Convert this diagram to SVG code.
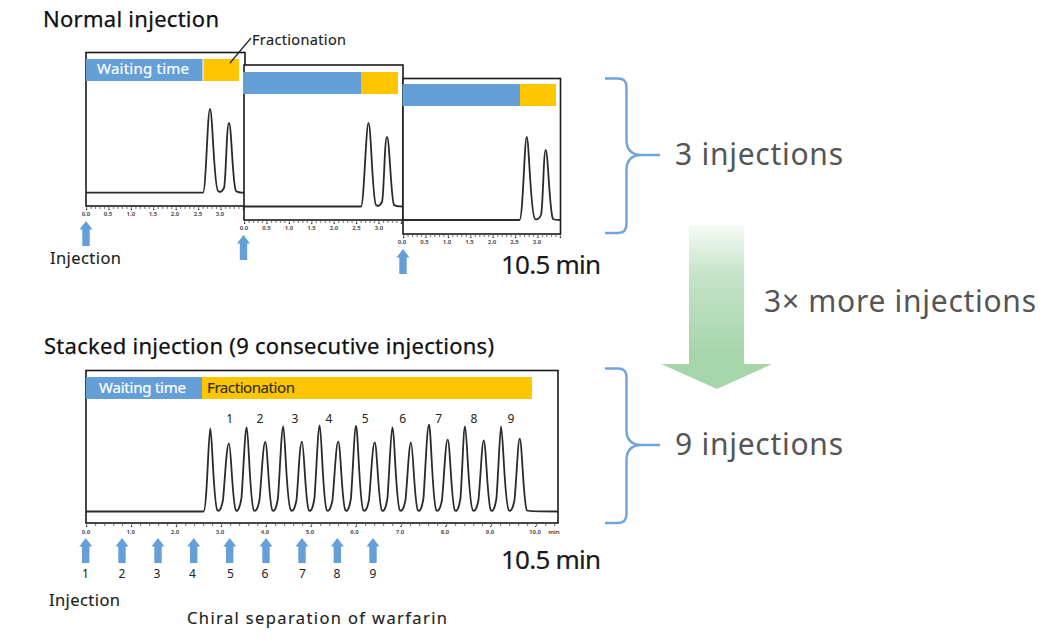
<svg xmlns="http://www.w3.org/2000/svg" width="1043" height="644" viewBox="0 0 1043 644">
<style>
text{font-family:"Noto Sans","Open Sans","DejaVu Sans",sans-serif}
.h{font-size:22px;fill:#111;stroke:#111;stroke-width:.25px}
.big{font-size:30px;fill:#555}
.min{font-size:26px;fill:#1a1a1a;stroke:#1a1a1a;stroke-width:.2px}
.lab{font-size:16.5px;fill:#222;stroke:#222;stroke-width:.15px}
.bar{font-size:15px;stroke-width:.2px}
.t{font-size:6px;fill:#555;text-anchor:middle;font-weight:700}
.n{font-size:12px;fill:#222;text-anchor:middle}
.frame{fill:#fff;stroke:#1a1a1a;stroke-width:1.6}
.blue{fill:#649fd8}
.gold{fill:#ffc600}
.trace{fill:none;stroke:#2a2a2a;stroke-width:1.8}
.minor{stroke:#111;stroke-width:1.2;fill:none;stroke-dasharray:1.2 3.28}
.minor2{stroke:#111;stroke-width:1.2;fill:none;stroke-dasharray:1.2 7.8}
.major{stroke:#111;stroke-width:1.2;fill:none;stroke-dasharray:1.2 21.2}
.major2{stroke:#111;stroke-width:1.2;fill:none;stroke-dasharray:1.2 43.7}
.brace{fill:none;stroke:#6fa5dc;stroke-width:2.4}
</style>
<defs>
<linearGradient id="g" x1="0" y1="225" x2="0" y2="389" gradientUnits="userSpaceOnUse"><stop offset="0" stop-color="#a6d5aa" stop-opacity="0.1"/><stop offset="0.3" stop-color="#a6d5aa" stop-opacity="0.65"/><stop offset="0.8" stop-color="#a6d5aa"/></linearGradient>
<path id="ar" d="M0 0L6.500 8.500H3.700V25H-3.700V8.500H-6.500Z" fill="#649fd8"/>
</defs>

<g id="title-normal"><text class="h" x="43" y="27" textLength="176">Normal injection</text></g>

<g id="panel-1">
<rect class="frame" x="86" y="52.500" width="159" height="153.500"/>
<rect class="blue" x="86" y="59" width="116.500" height="22"/>
<rect class="gold" x="203.500" y="59" width="35.500" height="22"/>
<text class="bar" x="97" y="74" fill="#fff" stroke="#fff" textLength="92">Waiting time</text>
<path class="trace" d="M86 192.700H203C206 192.700 207.500 109 210 109C212.500 109 214 188 218 191C220 192.500 222 192 224 188C226 182 226.500 123 229 123C231.500 123 232.500 186 236 191C238 192.700 241 192.700 244 192.700"/>
<path class="minor" d="M86 208H245"/><path class="major" d="M86 209.500H245"/>
<text class="t" x="86" y="216">0.0</text><text class="t" x="108" y="216">0.5</text><text class="t" x="130.800" y="216">1.0</text><text class="t" x="153" y="216">1.5</text><text class="t" x="175" y="216">2.0</text><text class="t" x="198" y="216">2.5</text><text class="t" x="220" y="216">3.0</text>
<use href="#ar" x="86" y="221"/>
<text class="lab" x="50" y="264" textLength="71">Injection</text>
</g>

<g id="panel-2">
<rect class="frame" x="244" y="65" width="159" height="155"/>
<rect class="blue" x="243" y="72" width="118" height="22"/>
<rect class="gold" x="361" y="72" width="37" height="22"/>
<path class="trace" d="M244 206.500H361C364 206.500 366 123 368.500 123C371 123 372.500 202 376 205C378 206.500 380 206 382 202C384 196 384.500 137 387 137C389.500 137 391 200 394 205C396 206.500 399 206.500 403 206.500"/>
<path class="minor" d="M244 222H403"/><path class="major" d="M244 223.500H403"/>
<text class="t" x="244" y="230">0.0</text><text class="t" x="266.500" y="230">0.5</text><text class="t" x="289" y="230">1.0</text><text class="t" x="311.500" y="230">1.5</text><text class="t" x="334" y="230">2.0</text><text class="t" x="356.500" y="230">2.5</text><text class="t" x="379" y="230">3.0</text>
<use href="#ar" x="243.500" y="235"/>
</g>

<g id="panel-3">
<rect class="frame" x="403" y="78.500" width="157.500" height="155.500"/>
<rect class="blue" x="402.500" y="84" width="117.500" height="22"/>
<rect class="gold" x="520" y="84" width="36" height="22"/>
<path class="trace" d="M403 220H519.500C523 220 524.500 137 526.700 137C529 137 530.500 216 535 219C537 220 539 219.500 541 215C543 209 543.500 150 545.700 150C548 150 549.500 213 553 219C555 220 558 220 560.500 220"/>
<path class="minor" d="M403 236H561"/><path class="major" d="M403 237.500H561"/>
<text class="t" x="402" y="244">0.0</text><text class="t" x="424.500" y="244">0.5</text><text class="t" x="447" y="244">1.0</text><text class="t" x="469.500" y="244">1.5</text><text class="t" x="492" y="244">2.0</text><text class="t" x="514.500" y="244">2.5</text><text class="t" x="537" y="244">3.0</text>
<use href="#ar" x="403" y="249"/>
<text class="min" x="501" y="274" textLength="100">10.5 min</text>
</g>

<g id="title-stacked"><text class="h" x="44" y="354" textLength="450">Stacked injection (9 consecutive injections)</text></g>

<g id="panel-stacked">
<rect class="frame" x="86" y="370.500" width="472" height="152.500"/>
<rect class="blue" x="86" y="377" width="116" height="22"/>
<rect class="gold" x="202" y="377" width="330" height="22"/>
<text class="bar" x="99" y="393" fill="#fff" stroke="#fff" textLength="87">Waiting time</text>
<text class="bar" x="207" y="393" fill="#333" stroke="#333" textLength="88">Fractionation</text>
<path class="trace" d="M86 511.500H203.500C207 511.500 208.500 428.500 210.300 428.500C212.100 428.500 213.500 507 217.500 510.500C220 512 221.500 507 223 500C225 480 226.500 443.500 229 443.500C231 443.500 232.500 507 236 510.500C238 512 240 507 241.500 498C243.500 470 245 427.500 246.700 427.500C248.500 427.500 250 507 254 510.500C256.500 512 258 507 259.500 500C261.500 480 263 442 265.300 442C267.500 442 269 507 272.500 510.500C275 512 276.500 507 278 498C280 470 281.500 426.500 283.300 426.500C285 426.500 286.500 507 291 510.500C293.500 512 295 507 296.500 500C298.500 480 299.500 441.700 302 441.700C304 441.700 305.500 507 309 510.500C311.500 512 313 507 314.500 498C316.500 470 318 425.300 319.700 425.300C321.500 425.300 323 507 327 510.500C329.500 512 331 507 332.500 500C334.500 480 336 441.700 338.300 441.700C340.500 441.700 342 507 345.500 510.500C348 512 349.500 507 351 498C353 470 354.500 425.700 356 425.700C358 425.700 359.500 507 363.500 510.500C366 512 367.500 507 369 500C371 480 372.500 442.300 374.700 442.300C377 442.300 378.500 507 382 510.500C384.500 512 386 507 387.500 498C389.500 470 391 427.300 392.300 427.300C394.500 427.300 396 507 400 510.500C402.500 512 404 507 405.500 500C407.500 480 409 442.300 411 442.300C413 442.300 414.500 507 418 510.500C420.500 512 422 507 423.500 498C425.500 470 427 424.700 429 424.700C431 424.700 432.500 507 436.500 510.500C439 512 440.500 507 442 500C444 480 445.500 439.700 447.700 439.700C450 439.700 451.500 507 455 510.500C457.500 512 459 507 460.500 498C462.500 470 463.500 426.300 465 426.300C467 426.300 468.500 507 473 510.500C475.500 512 477 507 478.500 500C480.500 480 482 440.300 483.700 440.300C486 440.300 487.500 507 491 510.500C493.500 512 495 507 496.500 498C498.500 470 500 426.300 501 426.300C503 426.300 504.500 507 509 510.500C511.500 512 513 507 514.500 500C516.500 480 518 438.700 519.700 438.700C522 438.700 523.500 507 527 510.500C530 511.500 533 511.500 558 511.500"/>
<text class="n" x="229.700" y="423">1</text><text class="n" x="260" y="423">2</text><text class="n" x="295" y="423">3</text><text class="n" x="329" y="423">4</text><text class="n" x="365.300" y="423">5</text><text class="n" x="402.700" y="423">6</text><text class="n" x="438.700" y="423">7</text><text class="n" x="474" y="423">8</text><text class="n" x="511" y="423">9</text>
<path class="minor2" d="M86 525H558"/><path class="major2" d="M86 526.500H558"/>
<text class="t" x="86" y="534">0.0</text><text class="t" x="130.700" y="534">1.0</text><text class="t" x="175" y="534">2.0</text><text class="t" x="220" y="534">3.0</text><text class="t" x="265" y="534">4.0</text><text class="t" x="310" y="534">5.0</text><text class="t" x="354.500" y="534">6.0</text><text class="t" x="400" y="534">7.0</text><text class="t" x="445" y="534">8.0</text><text class="t" x="490" y="534">9.0</text><text class="t" x="535" y="534">10.0</text><text class="t" x="554" y="534">min</text>
<use href="#ar" x="85.700" y="538"/><use href="#ar" x="122" y="538"/><use href="#ar" x="158" y="538"/><use href="#ar" x="193.700" y="538"/><use href="#ar" x="229.700" y="538"/><use href="#ar" x="266" y="538"/><use href="#ar" x="302" y="538"/><use href="#ar" x="337.300" y="538"/><use href="#ar" x="373" y="538"/>
<text class="n" x="85.500" y="578">1</text><text class="n" x="122" y="578">2</text><text class="n" x="157" y="578">3</text><text class="n" x="192.500" y="578">4</text><text class="n" x="230.500" y="578">5</text><text class="n" x="265" y="578">6</text><text class="n" x="302.500" y="578">7</text><text class="n" x="337" y="578">8</text><text class="n" x="373" y="578">9</text>
<text class="min" x="501" y="569" textLength="100">10.5 min</text>
<text class="lab" x="49" y="606" textLength="71">Injection</text>
<text class="lab" x="187" y="624" textLength="260">Chiral separation of warfarin</text>
</g>

<g id="connectors">
<path d="M230 63L251 38" fill="none" stroke="#222" stroke-width="1.2"/>
<path class="brace" d="M605 78.500H618C624 78.500 626.500 81 626.500 87V140C626.500 151 633 155 642 155H660M642 155C633 155 626.500 159 626.500 170V224C626.500 230 624 233 618 233H605"/>
<path class="brace" d="M605 368.500H618C624 368.500 626.500 371 626.500 377V430C626.500 441 633 445 642 445H660M642 445C633 445 626.500 449 626.500 460V514C626.500 520 624 523 618 523H605"/>
<path d="M689 225H744V364H772L717 389L661 364H689Z" fill="url(#g)"/>
</g>

<g id="summary-labels">
<text class="big" x="675" y="165" textLength="168">3 injections</text>
<text class="big" x="764" y="312" textLength="272">3× more injections</text>
<text class="big" x="675" y="455" textLength="168">9 injections</text>
</g>
<text class="lab" x="252" y="45" style="font-size:14.500px" textLength="94">Fractionation</text>
</svg>
